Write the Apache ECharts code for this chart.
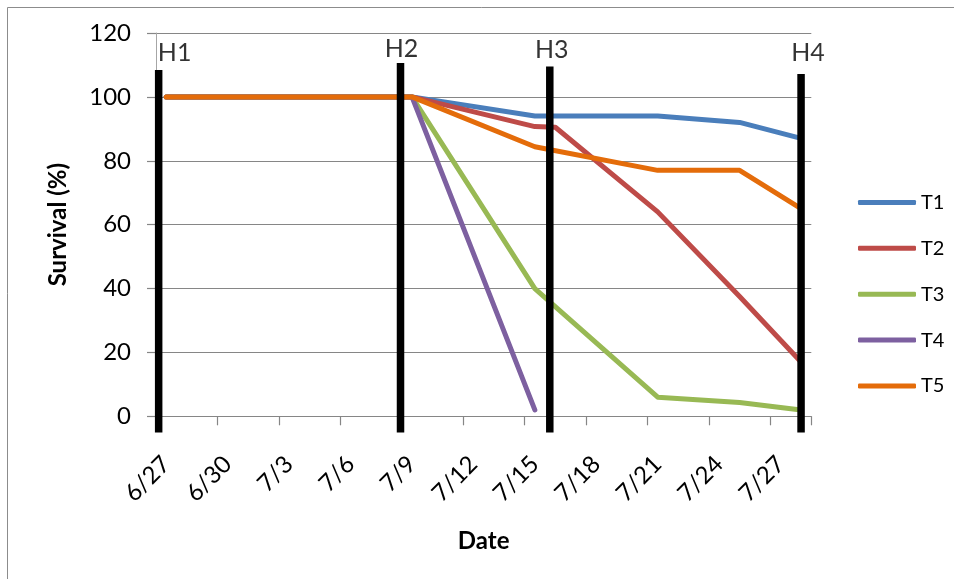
<!DOCTYPE html>
<html>
<head>
<meta charset="utf-8">
<script src="https://cdn.jsdelivr.net/npm/echarts@6/dist/echarts.min.js"></script>
<style>
  html, body { margin: 0; padding: 0; background: #ffffff; }
  #chart { width: 954px; height: 579px; }
</style>
</head>
<body>
<div id="chart"></div>
<script>
// Daily categories of the date axis (one slot per day)
const dateCategories = [
  '6/27', '6/28', '6/29', '6/30', '7/1', '7/2', '7/3', '7/4', '7/5', '7/6', '7/7',
  '7/8', '7/9', '7/10', '7/11', '7/12', '7/13', '7/14', '7/15', '7/16', '7/17',
  '7/18', '7/19', '7/20', '7/21', '7/22', '7/23', '7/24', '7/25', '7/26', '7/27', '7/28'
];

// Sampling dates and survival (%) per treatment (null = not sampled)
const sampleDates = ['6/27', '7/9', '7/15', '7/16', '7/21', '7/25', '7/28'];
const t1 = [100, 100, 94, 94, 94, 92, 87];
const t2 = [100, 100, 90.7, 90.5, 64, 37.5, 17];
const t3 = [100, 100, 40, null, 6, 4.3, 2];
const t4 = [100, 100, 2, null, null, null, null];
const t5 = [100, 100, 84.4, null, 77, 77, 65];

const seriesNames = ['T1', 'T2', 'T3', 'T4', 'T5'];
const seriesValues = [t1, t2, t3, t4, t5];
const seriesColors = ['#4a7ebb', '#be4b48', '#98b954', '#7d60a0', '#e46c0a'];

// Harvest markers: position in days from 6/27 and top of the bar (%)
const harvestNames = ['H1', 'H2', 'H3', 'H4'];
const harvestDays = [-0.37, 11.44, 18.73, 31.0];
const harvestTops = [108.4, 110.6, 109.5, 107.2];
const harvestBottom = -5.1;
const harvestLabelOffsets = [[16, 0], [1, 3], [2, 1], [7, -3]];

// y axis ticks
const yMin = 0, yMax = 120, yStep = 20;

const FONT = 'Lato, "Noto Sans", sans-serif';

const chart = echarts.init(document.getElementById('chart'), null, { renderer: 'canvas' });

const lineSeries = seriesNames.map((name, i) => ({
  name: name,
  type: 'line',
  xAxisIndex: 0,
  yAxisIndex: 0,
  symbol: 'none',
  showSymbol: false,
  z: 2 + i,
  lineStyle: { color: seriesColors[i], width: 5, cap: 'round', join: 'round' },
  itemStyle: { color: seriesColors[i] },
  data: sampleDates
    .map((d, k) => [d, seriesValues[i][k]])
    .filter(p => p[1] !== null)
}));

// Vertical harvest bars
const harvestBars = harvestNames.map((name, i) => ({
  name: name,
  type: 'line',
  xAxisIndex: 1,
  yAxisIndex: 0,
  symbol: 'none',
  clip: false,
  silent: true,
  z: 10,
  lineStyle: { color: '#000000', width: 7.5, cap: 'butt' },
  data: [[harvestDays[i], harvestTops[i]], [harvestDays[i], harvestBottom]]
}));

// Harvest captions above each bar
const harvestCaptions = {
  name: 'harvest-captions',
  type: 'scatter',
  xAxisIndex: 1,
  yAxisIndex: 0,
  symbolSize: 0,
  clip: false,
  silent: true,
  z: 11,
  data: harvestNames.map((name, i) => ({
    value: [harvestDays[i], harvestTops[i]],
    label: {
      show: true,
      formatter: name,
      position: 'top',
      distance: 5,
      offset: harvestLabelOffsets[i],
      color: '#000000',
      fontFamily: FONT,
      fontSize: 25
    }
  }))
};

const option = {
  animation: false,
  backgroundColor: '#ffffff',
  graphic: [
    {
      type: 'rect',
      shape: { x: 7.5, y: 7.5, width: 1200, height: 1200 },
      style: { fill: null, stroke: '#8c8c8c', lineWidth: 1 },
      silent: true,
      z: -10
    }
  ],
  grid: {
    left: 156,
    right: 142.7,
    top: 33,
    bottom: 162.7,
    containLabel: false,
    outerBoundsMode: 'none'
  },
  legend: {
    orient: 'vertical',
    left: 853,
    top: 187.4,
    icon: 'roundRect',
    itemWidth: 58,
    itemHeight: 5,
    itemGap: 25.9,
    data: seriesNames,
    textStyle: { color: '#000000', fontFamily: FONT, fontSize: 20 }
  },
  xAxis: [
    {
      type: 'category',
      data: dateCategories,
      boundaryGap: true,
      name: 'Date',
      nameLocation: 'middle',
      nameGap: 113,
      nameTextStyle: { color: '#000000', fontFamily: FONT, fontSize: 24, fontWeight: 'bold' },
      axisLine: { show: true, onZero: false, lineStyle: { color: '#868686', width: 1 } },
      axisTick: { show: true, interval: 2, alignWithLabel: false, length: 9, lineStyle: { color: '#868686', width: 1.2 } },
      axisLabel: {
        interval: 2,
        rotate: 45,
        margin: 44,
        color: '#000000',
        fontFamily: FONT,
        fontSize: 24
      },
      splitLine: { show: false }
    },
    {
      type: 'value',
      min: -0.5,
      max: 31.5,
      show: false
    }
  ],
  yAxis: {
    type: 'value',
    min: yMin,
    max: yMax,
    interval: yStep,
    name: 'Survival (%)',
    nameLocation: 'middle',
    nameGap: 86,
    nameRotate: 90,
    nameTextStyle: { color: '#000000', fontFamily: FONT, fontSize: 24, fontWeight: 'bold' },
    axisLine: { show: true, onZero: false, lineStyle: { color: '#a6a6a6', width: 1 } },
    axisTick: { show: true, inside: false, length: 9, lineStyle: { color: '#868686', width: 1.2 } },
    axisLabel: { margin: 25, color: '#000000', fontFamily: FONT, fontSize: 24 },
    splitLine: { show: true, lineStyle: { color: '#868686', width: 1.2 } }
  },
  series: lineSeries.concat(harvestBars, [harvestCaptions])
};

chart.setOption(option);
</script>
</body>
</html>
